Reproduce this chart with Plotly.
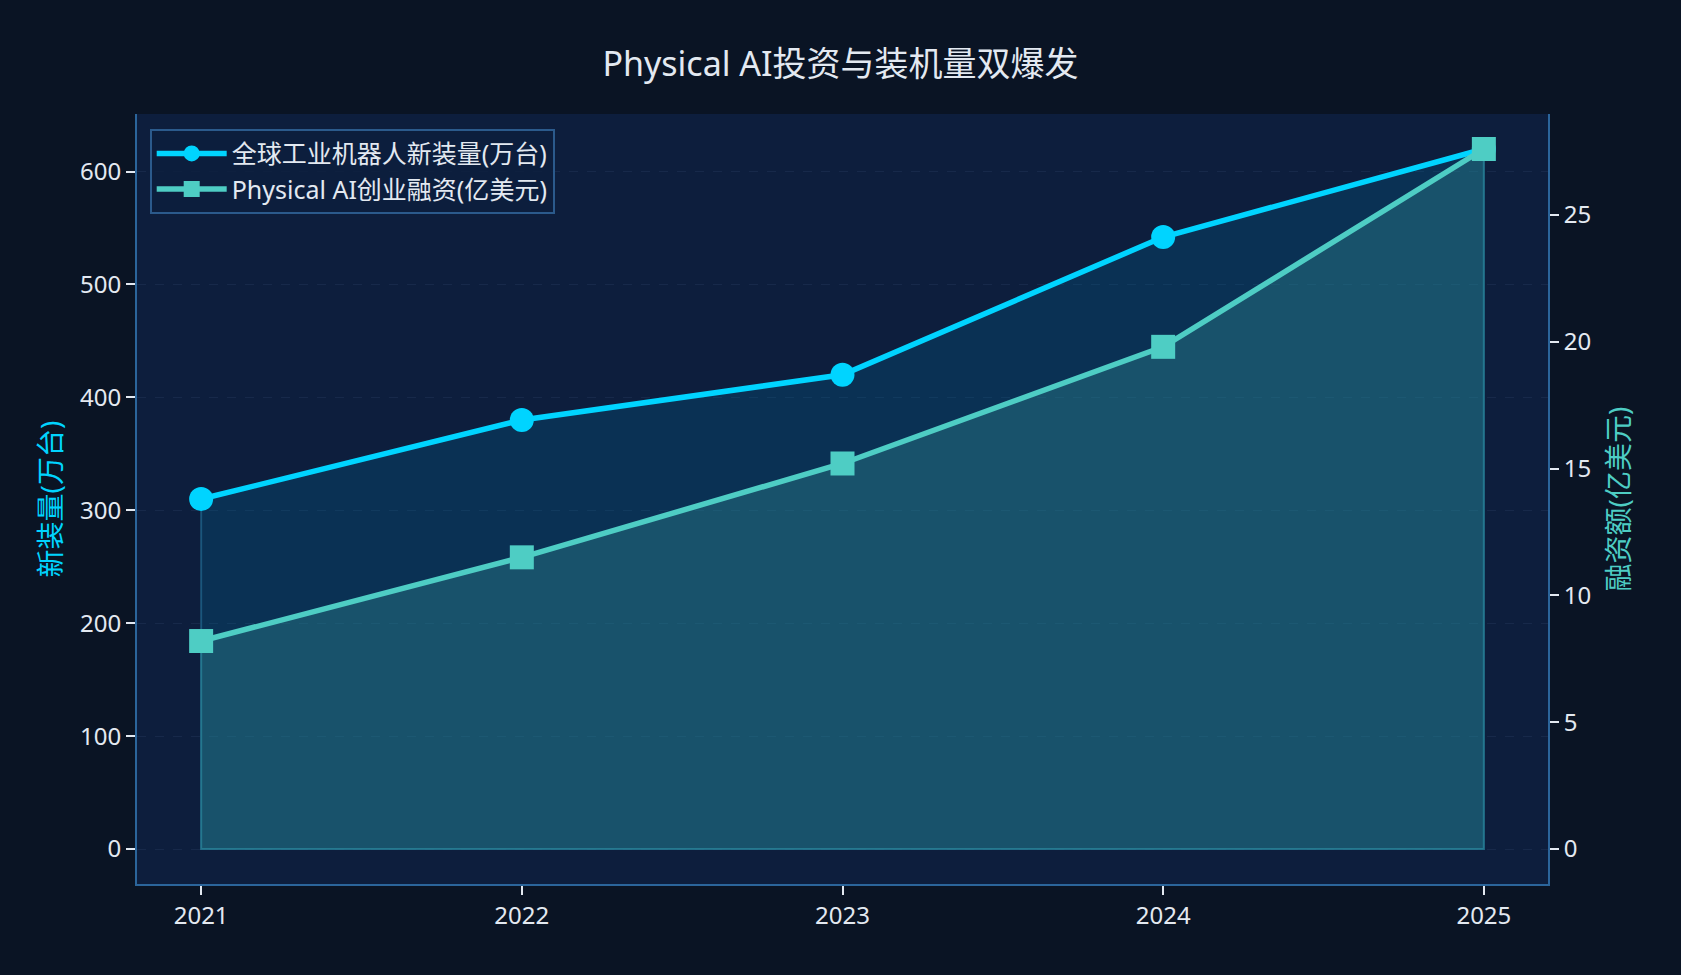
import plotly.graph_objects as go

years = [2021, 2022, 2023, 2024, 2025]
installs = [310, 380, 420, 542, 620]
funding = [8.2, 11.5, 15.2, 19.8, 27.6]

name_installs = "全球工业机器人新装量(万台)"
name_funding = "Physical AI创业融资(亿美元)"
title_text = "Physical AI投资与装机量双爆发"
y1_title = "新装量(万台)"
y2_title = "融资额(亿美元)"

FONT = "Noto Sans, Noto Sans CJK SC, sans-serif"
C1 = "#00d4ff"
C2 = "#4ecdc4"
TXT = "#e3e9f1"
SPINE = "#2b659b"

fig = go.Figure()

# area fills (closed polygons down to zero)
fig.add_trace(go.Scatter(
    x=years + [years[-1], years[0], years[0]],
    y=installs + [0, 0, installs[0]],
    mode="lines", fill="toself", fillcolor="rgba(0,120,170,0.22)",
    line=dict(color="rgba(40,120,160,0.55)", width=2),
    hoverinfo="skip", showlegend=False, yaxis="y"))
fig.add_trace(go.Scatter(
    x=years, y=installs, mode="lines+markers", name=name_installs,
    line=dict(color=C1, width=5.5), marker=dict(symbol="circle", size=24, color=C1),
    yaxis="y"))
fig.add_trace(go.Scatter(
    x=years + [years[-1], years[0], years[0]],
    y=funding + [0, 0, funding[0]],
    mode="lines", fill="toself", fillcolor="rgba(50,140,150,0.36)",
    line=dict(color="rgba(40,130,150,0.6)", width=2),
    hoverinfo="skip", showlegend=False, yaxis="y2"))
fig.add_trace(go.Scatter(
    x=years, y=funding, mode="lines+markers", name=name_funding,
    line=dict(color=C2, width=5.5), marker=dict(symbol="square", size=24, color=C2),
    yaxis="y2"))

fig.update_layout(
    width=1681, height=975,
    margin=dict(l=137, r=133, t=114, b=91),
    paper_bgcolor="#0a1424", plot_bgcolor="#0d1e3d",
    font=dict(family=FONT, color=TXT, size=24),
    title=dict(text=title_text, x=0.5, xanchor="center", y=1 - 64 / 975, yanchor="middle",
               yref="container", font=dict(size=34, color=TXT, family=FONT)),
    xaxis=dict(range=[2020.8, 2025.2], tickvals=years, ticktext=[str(y) for y in years],
               showgrid=False, zeroline=False, showline=True, linecolor=SPINE, linewidth=2,
               ticks="outside", ticklen=9, tickwidth=2, tickcolor=TXT,
               tickfont=dict(size=24, color=TXT, family=FONT)),
    yaxis=dict(range=[-31, 651], tickvals=[0, 100, 200, 300, 400, 500, 600],
               showgrid=True, gridcolor="rgba(120,150,200,0.10)", griddash="dash", gridwidth=1,
               zeroline=False, showline=True, linecolor=SPINE, linewidth=2,
               ticks="outside", ticklen=9, tickwidth=2, tickcolor=TXT,
               tickfont=dict(size=24, color=TXT, family=FONT),
               title=dict(text=y1_title, font=dict(size=28, color=C1, family=FONT), standoff=10)),
    yaxis2=dict(range=[-1.38, 28.98], tickvals=[0, 5, 10, 15, 20, 25], overlaying="y", side="right",
                showgrid=False, zeroline=False, showline=True, linecolor=SPINE, linewidth=2,
                ticks="outside", ticklen=9, tickwidth=2, tickcolor=TXT,
                tickfont=dict(size=24, color=TXT, family=FONT),
                title=dict(text=y2_title, font=dict(size=28, color=C2, family=FONT), standoff=19)),
    legend=dict(x=0.009, y=0.981, xanchor="left", yanchor="top",
                bgcolor="rgba(13,30,61,0.85)", bordercolor="#2b5a8c", borderwidth=2,
                font=dict(size=25, color=TXT, family=FONT), itemwidth=70,
                tracegroupgap=0),
    showlegend=True,
)

fig.write_html("out.html", config={"displayModeBar": False},
               post_script="document.body.style.margin='0';document.body.style.background='#0a1424';")
